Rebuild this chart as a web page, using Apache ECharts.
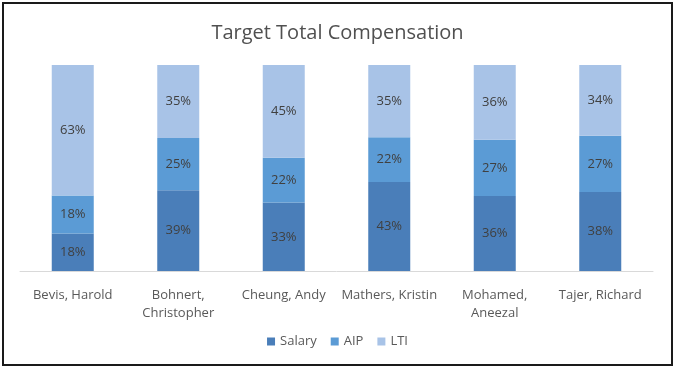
<!DOCTYPE html>
<html>
<head>
<meta charset="utf-8">
<script src="https://cdn.jsdelivr.net/npm/echarts@6/dist/echarts.min.js"></script>
<style>
html,body{margin:0;padding:0;background:#fff;}
#frame{position:absolute;left:2px;top:2px;width:667px;height:360px;border:2px solid #1a1a1a;}
#chart{position:absolute;left:0;top:0;width:675px;height:368px;}
</style>
</head>
<body>
<div id="frame"></div>
<div id="chart"></div>
<script>
const categories = ['Bevis, Harold', 'Bohnert,\nChristopher', 'Cheung, Andy', 'Mathers, Kristin', 'Mohamed,\nAneezal', 'Tajer, Richard'];
const salary = [18.2, 39.2, 33.2, 43.2, 36.4, 38.3];
const aip = [18.4, 25.4, 21.8, 21.7, 27.3, 27.3];
const lti = [63.4, 35.4, 45.0, 35.1, 36.3, 34.4];
const seriesNames = ['Salary', 'AIP', 'LTI'];
const colors = ['#4a7eb9', '#5b9bd5', '#a8c3e7'];

const chart = echarts.init(document.getElementById('chart'));
const font = 'Open Sans, sans-serif';
const mk = (name, data, color) => ({
  name, type: 'bar', stack: 'total', data, barWidth: 42,
  itemStyle: {color},
  label: {show: true, position: 'inside', color: '#404040', fontSize: 13, fontFamily: font,
    formatter: p => Math.round(p.value) + '%'}
});
chart.setOption({
  animation: false,
  title: {text: 'Target Total Compensation', left: 'center', top: 18,
    textStyle: {fontFamily: font, fontWeight: 'normal', fontSize: 20, color: '#505050'}},
  legend: {bottom: 15, left: 'center', itemWidth: 8, itemHeight: 8, itemGap: 14,
    icon: 'rect', textStyle: {fontFamily: font, fontSize: 13, color: '#595959'},
    data: seriesNames},
  grid: {left: 20, right: 22, top: 65, bottom: 97},
  xAxis: {type: 'category', data: categories,
    axisLine: {lineStyle: {color: '#d9d9d9'}}, axisTick: {show: false},
    axisLabel: {fontFamily: font, fontSize: 13, color: '#595959', margin: 15, lineHeight: 18, interval: 0}},
  yAxis: {type: 'value', min: 0, max: 100, show: false, splitLine: {show: false}},
  series: [mk(seriesNames[0], salary, colors[0]), mk(seriesNames[1], aip, colors[1]), mk(seriesNames[2], lti, colors[2])]
});
</script>
</body>
</html>
